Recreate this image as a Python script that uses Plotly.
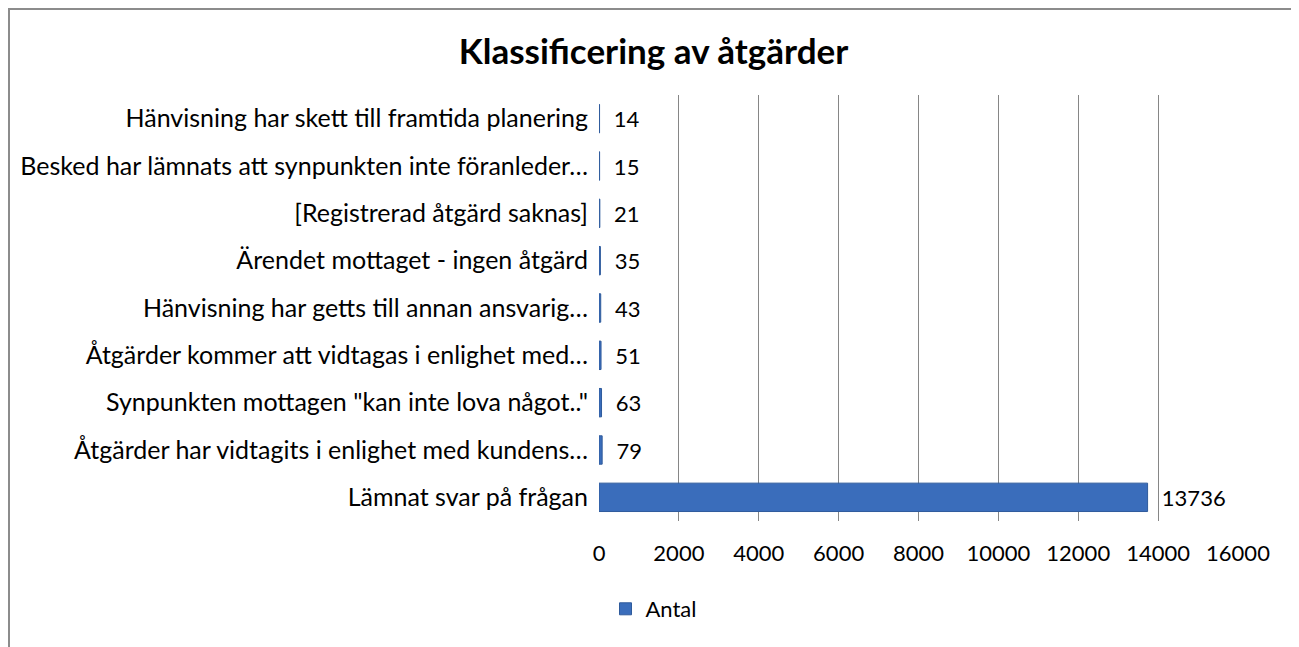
import plotly.graph_objects as go

categories = [
    "Lämnat svar på frågan",
    "Åtgärder har vidtagits i enlighet med kundens…",
    "Synpunkten mottagen \"kan inte lova något..\"",
    "Åtgärder kommer att vidtagas i enlighet med…",
    "Hänvisning har getts till annan ansvarig…",
    "Ärendet mottaget - ingen åtgärd",
    "[Registrerad åtgärd saknas]",
    "Besked har lämnats att synpunkten inte föranleder…",
    "Hänvisning har skett till framtida planering",
]
values = [13736, 79, 63, 51, 43, 35, 21, 15, 14]
series_name = "Antal"
x_ticks = [0, 2000, 4000, 6000, 8000, 10000, 12000, 14000, 16000]

OFF = 8  # page body margin
W, H = 1299 - OFF, 647 - OFF
L, R, T, B = 599 - OFF, 61, 95 - OFF, 126
pw, ph = W - L - R, H - T - B

font = "Lato, 'Open Sans', sans-serif"

fig = go.Figure(go.Bar(
    y=categories, x=values, orientation="h", name=series_name,
    marker=dict(color="#3a6dbb", line=dict(color="#2f5b9c", width=1)),
    text=["\u00a0\u00a0" + str(v) for v in values], textposition="outside",
    textfont=dict(size=22, color="#000000", family=font),
    constraintext="none",
    cliponaxis=False,
))

fig.update_layout(
    width=W, height=H,
    margin=dict(l=L, r=R, t=T, b=B),
    paper_bgcolor="white", plot_bgcolor="white",
    bargap=0.4,
    title=dict(text="<b>Klassificering av åtgärder</b>", x=0.5, xref="container",
               y=1 - (52 - OFF) / H, yref="container", yanchor="middle", xanchor="center",
               font=dict(size=35, family=font, color="#000000")),
    showlegend=True,
    legend=dict(orientation="h", x=0.5, xref="container", xanchor="center",
                y=1 - (609 - OFF) / H, yref="container", yanchor="middle",
                font=dict(size=22, family=font, color="#000000"),
                itemwidth=30),
    font=dict(family=font, size=22, color="#000000"),
)
fig.update_xaxes(range=[0, 16000], tickvals=x_ticks, ticktext=[str(t) for t in x_ticks],
                 showgrid=True, gridcolor="#868686", gridwidth=1, zeroline=False,
                 showline=False, ticks="", ticklabelstandoff=17,
                 tickfont=dict(size=22, family=font, color="#000000"))
fig.update_yaxes(showgrid=False, zeroline=False, showline=False, ticks="",
                 ticklabelstandoff=10,
                 tickfont=dict(size=25, family=font, color="#000000"))

# outer chart border
fig.add_shape(type="rect", xref="paper", yref="paper",
              x0=(1 - L) / pw, x1=(1289 - L) / pw,
              y0=1 + (T - 1) / ph, y1=1 - (H + 10 - T) / ph,
              line=dict(color="#8c8c8c", width=2), fillcolor="rgba(0,0,0,0)",
              layer="below")

fig.write_html("out.html")
